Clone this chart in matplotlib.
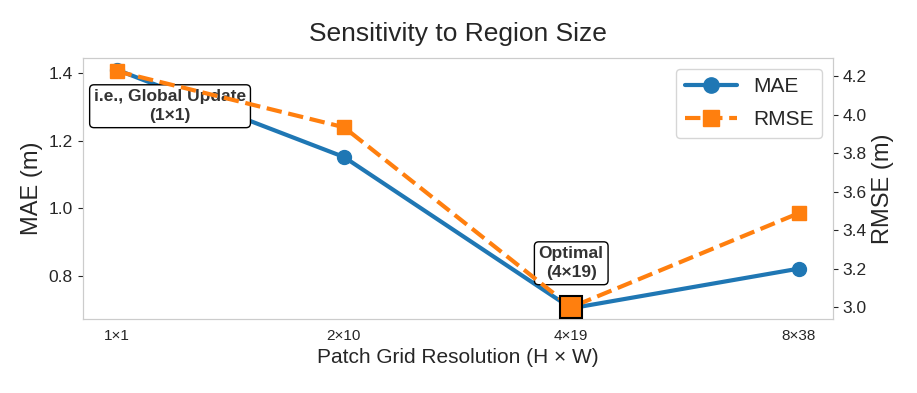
import matplotlib
matplotlib.use("Agg")
import matplotlib.pyplot as plt
import seaborn as sns

sns.set_style("white")
plt.rcParams['font.family'] = ['Liberation Sans', 'DejaVu Sans']

labels = ['1×1', '2×10', '4×19', '8×38']
mae = [1.41, 1.152, 0.705, 0.822]
rmse = [4.226, 3.935, 3.0, 3.488]

fig, ax = plt.subplots(figsize=(9.17, 3.93), dpi=100)
ax2 = ax.twinx()
x = list(range(len(labels)))

l1, = ax.plot(x, mae, '-o', color='#1f77b4', lw=3, ms=10, label='MAE')
l2, = ax2.plot(x, rmse, '--s', color='#ff7f0e', lw=3, ms=10, label='RMSE')
# highlight optimal point
ax2.plot(x[2], rmse[2], 's', color='#ff7f0e', ms=15.5, mec='black', mew=1.5, zorder=5)

ax.set_ylim(0.673, 1.444)
ax2.set_ylim(2.938, 4.294)
ax.set_yticks([0.8, 1.0, 1.2, 1.4])
ax2.set_yticks([3.0, 3.2, 3.4, 3.6, 3.8, 4.0, 4.2])
ax.set_xticks(x)
ax.set_xticklabels(labels, fontsize=11)
ax.tick_params(axis='y', labelsize=12.5)
ax2.tick_params(axis='y', labelsize=12.5)

ax.set_xlabel('Patch Grid Resolution (H × W)', fontsize=15)
ax.set_ylabel('MAE (m)', fontsize=17)
ax2.set_ylabel('RMSE (m)', fontsize=17)
ax.set_title('Sensitivity to Region Size', fontsize=19, pad=12)

for a in (ax, ax2):
    for s in a.spines.values():
        s.set_color('#cccccc')

box = dict(boxstyle='round,pad=0.25', fc='white', ec='black', lw=1)
ax.annotate('i.e., Global Update\n(1×1)', xy=(x[0], mae[0]), xytext=(0.235, 1.302),
            ha='center', va='center', fontsize=12.5, fontweight='bold', color='#333333',
            bbox=box, zorder=10, linespacing=1.35)
ax.annotate('Optimal\n(4×19)', xy=(x[2], mae[2]), xytext=(2, 0.838),
            ha='center', va='center', fontsize=12.5, fontweight='bold', color='#333333',
            bbox=box, zorder=10, linespacing=1.35)

ax.legend([l1, l2], ['MAE', 'RMSE'], loc='upper right', fontsize=15, frameon=True,
          handlelength=2.5, labelspacing=0.7, markerscale=1.1)

fig.subplots_adjust(left=0.09, right=0.908, top=0.852, bottom=0.188)
plt.savefig('out.png')
